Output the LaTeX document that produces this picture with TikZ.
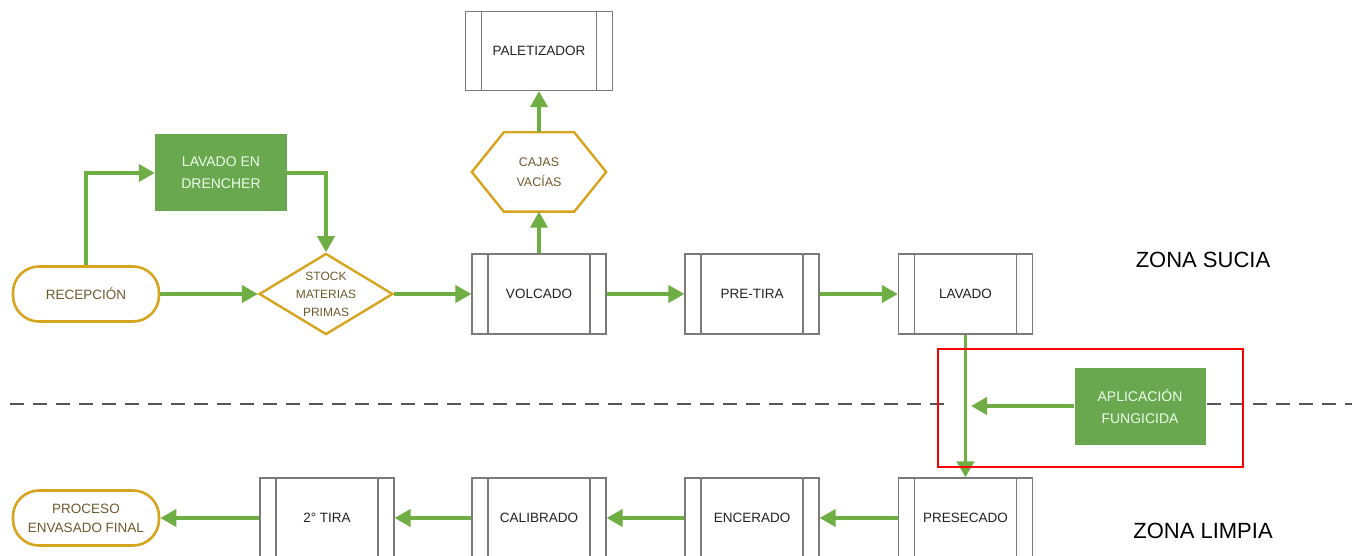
\documentclass[tikz,border=0pt]{standalone}
\usepackage{fontspec}
\setmainfont{Liberation Sans}
\usetikzlibrary{arrows.meta,shapes.geometric,calc}
\definecolor{agreen}{HTML}{6FAE45}
\definecolor{fgreen}{HTML}{6AA84F}
\definecolor{gold}{HTML}{D6A41E}
\definecolor{goldtext}{HTML}{6E5A2C}
\definecolor{boxgray}{HTML}{7A7A7A}
\definecolor{boxtext}{HTML}{222222}
\definecolor{dashgray}{HTML}{555555}
\tikzset{
  arr/.style={draw=agreen, line width=3.8pt, -{Triangle[length=16pt,width=17pt]}},
  procbox/.style={draw=boxgray, line width=1.2pt, fill=white, minimum width=134pt, minimum height=80pt,
    inner sep=0pt, text=boxtext, font=\fontsize{13.5}{15}\selectfont,
    path picture={
      \draw[boxgray, line width=1.2pt] ([xshift=16pt]path picture bounding box.north west) -- ([xshift=16pt]path picture bounding box.south west);
      \draw[boxgray, line width=1.2pt] ([xshift=-16pt]path picture bounding box.north east) -- ([xshift=-16pt]path picture bounding box.south east);
    }},
  greenbox/.style={fill=fgreen, draw=none, minimum width=132pt, minimum height=77pt, inner sep=0pt,
    text=white!92!green, align=center, font=\fontsize{14}{22}\selectfont},
  pill/.style={draw=gold, line width=2.6pt, rounded corners=26pt, fill=white, minimum width=146pt,
    minimum height=55pt, inner sep=0pt, text=goldtext, align=center, font=\fontsize{13.5}{19}\selectfont},
  stockdiam/.style={diamond, aspect=1.65, draw=gold, line width=2.4pt, minimum width=132pt, minimum height=80pt,
    inner sep=0pt, text=goldtext, align=center, font=\fontsize{12}{18}\selectfont},
  hexnode/.style={minimum width=134pt, minimum height=79pt, inner sep=0pt, text=goldtext, align=center,
    font=\fontsize{12.5}{20}\selectfont},
  zonetext/.style={text=black, font=\fontsize{22}{24}\selectfont, inner sep=0pt}
}
\begin{document}
\begin{tikzpicture}[x=1pt,y=-1pt]
\useasboundingbox (0,0) rectangle (1354,556);
\fill[white] (0,0) rectangle (1354,556);
% dashed zone separator
\draw[dashgray, line width=1.8pt, dash pattern=on 14pt off 9pt] (10,404) -- (950,404);
\draw[dashgray, line width=1.8pt, dash pattern=on 14pt off 9pt] (1207,404) -- (1352,404);

% top row
\node[pill] (recep) at (86,294) {RECEPCIÓN};
\node[greenbox] (drench) at (221,173) {LAVADO EN\\DRENCHER};
\node[stockdiam] (stock) at (326,294) {STOCK\\MATERIAS\\PRIMAS};
\node[procbox] (volcado) at (539,294) {VOLCADO};
\node[procbox] (pretira) at (752,294) {PRE-TIRA};
\node[procbox] (lavado) at (965.5,294) {LAVADO};
\node[hexnode] (cajas) at (539,172) {CAJAS\\VACÍAS};
\draw[gold, line width=2.4pt, line join=miter]
  (cajas.west) -- ([xshift=32pt]cajas.north west) -- ([xshift=-32pt]cajas.north east)
  -- (cajas.east) -- ([xshift=-32pt]cajas.south east) -- ([xshift=32pt]cajas.south west) -- cycle;
\node[procbox, minimum width=147pt, minimum height=79pt] (palet) at (539,51) {PALETIZADOR};

\node[zonetext] (zsucia) at (1203,260) {ZONA SUCIA};
\node[zonetext] (zlimpia) at (1203,531) {ZONA LIMPIA};

% fungicide
\node[greenbox, minimum width=131pt] (fungi) at (1140,406) {APLICACIÓN\\FUNGICIDA};
\coordinate (fjoin) at (971,406);

% bottom row
\node[procbox] (presec) at (965.5,518) {PRESECADO};
\node[procbox] (encer) at (752,518) {ENCERADO};
\node[procbox] (calib) at (539,518) {CALIBRADO};
\node[procbox] (tira2) at (327,518) {2° TIRA};
\node[pill] (envas) at (86,518) {PROCESO\\ENVASADO FINAL};

% connectors
\draw[arr] (recep.north) |- (drench.west);
\draw[arr] (drench.east) -| (stock.north);
\draw[arr] (recep.east) -- (stock.west);
\draw[arr] (stock.east) -- (volcado.west);
\draw[arr] (volcado.north) -- (cajas.south);
\draw[arr] (cajas.north) -- (palet.south);
\draw[arr] (volcado.east) -- (pretira.west);
\draw[arr] (pretira.east) -- (lavado.west);
\draw[arr] (lavado.south) -- (presec.north);
\draw[arr] (fungi.west) -- (fjoin);
\draw[arr] (presec.west) -- (encer.east);
\draw[arr] (encer.west) -- (calib.east);
\draw[arr] (calib.west) -- (tira2.east);
\draw[arr] (tira2.west) -- (envas.east);

% highlight
\node[draw=red, line width=2.8pt, minimum width=305pt, minimum height=118pt, inner sep=0pt] (hl) at (1090.5,408) {};
\end{tikzpicture}
\end{document}
